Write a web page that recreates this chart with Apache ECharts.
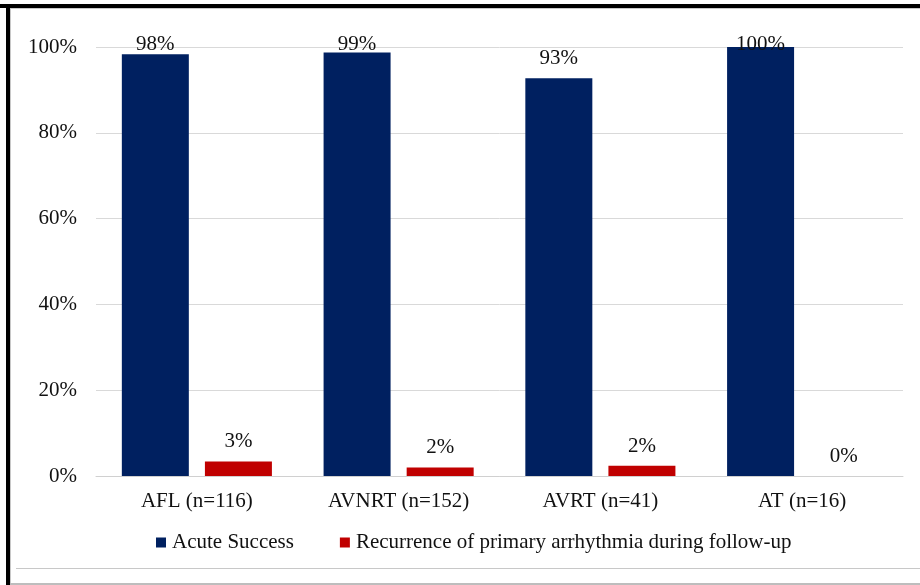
<!DOCTYPE html>
<html>
<head>
<meta charset="utf-8">
<script src="https://cdn.jsdelivr.net/npm/echarts@6/dist/echarts.min.js"></script>
<style>
html,body{margin:0;padding:0;background:#fff;}
#c{width:920px;height:585px;}
</style>
</head>
<body>
<div id="c"></div>
<script>
var categories = ['AFL (n=116)', 'AVNRT (n=152)', 'AVRT (n=41)', 'AT (n=16)'];
var seriesNames = ['Acute Success', 'Recurrence of primary arrhythmia during follow-up'];
var acuteSuccess = [98.3, 98.7, 92.7, 100];
var recurrence = [3.4, 2.0, 2.4, 0];
var yTicks = [0, 20, 40, 60, 80, 100];

var FONT = '"Liberation Serif", "Times New Roman", serif';
var chart = echarts.init(document.getElementById('c'), null, {renderer: 'canvas'});

var labelCommon = {
  show: true,
  position: 'top',
  distance: 9,
  fontFamily: FONT,
  fontSize: 21,
  color: '#111',
  formatter: function (p) { return Math.round(p.value) + '%'; }
};

chart.setOption({
  backgroundColor: '#fff',
  animation: false,
  textStyle: {fontFamily: FONT},
  grid: {left: 96, right: 17, top: 47, bottom: 109, containLabel: false},
  legend: {
    data: seriesNames,
    left: 151,
    top: 527,
    icon: 'rect',
    itemWidth: 10,
    itemHeight: 10,
    itemGap: 46,
    textStyle: {fontFamily: FONT, fontSize: 21, color: '#111', padding: [0, 0, 0, 1]}
  },
  xAxis: {
    type: 'category',
    data: categories,
    axisLine: {show: true, lineStyle: {color: '#d0d0d0', width: 1}},
    axisTick: {show: false},
    axisLabel: {fontFamily: FONT, fontSize: 21, color: '#111', margin: 15}
  },
  yAxis: {
    type: 'value',
    min: yTicks[0],
    max: yTicks[yTicks.length - 1],
    interval: 20,
    axisLine: {show: false},
    axisTick: {show: false},
    splitLine: {lineStyle: {color: '#d9d9d9', width: 1}},
    axisLabel: {fontFamily: FONT, fontSize: 21, color: '#111', margin: 19,
      formatter: function (v) { return v + '%'; }}
  },
  labelLayout: function (p) {
    var minTop = 34;
    if (p.labelRect && p.labelRect.y < minTop) {
      return {dy: minTop - p.labelRect.y};
    }
    return {};
  },
  series: [
    {
      name: seriesNames[0],
      type: 'bar',
      data: acuteSuccess,
      barWidth: 67,
      barGap: '24%',
      itemStyle: {color: '#002060'},
      label: labelCommon
    },
    {
      name: seriesNames[1],
      type: 'bar',
      data: recurrence,
      barWidth: 67,
      barGap: '24%',
      itemStyle: {color: '#c00000'},
      label: labelCommon
    }
  ],
  graphic: [
    {type: 'rect', shape: {x: 0, y: 4, width: 920, height: 4}, style: {fill: '#000'}, z: 100},
    {type: 'rect', shape: {x: 6, y: 4, width: 4, height: 581}, style: {fill: '#000'}, z: 100},
    {type: 'rect', shape: {x: 10, y: 8, width: 910, height: 1}, style: {fill: '#c8c8c8'}, z: 99},
    {type: 'rect', shape: {x: 10, y: 8, width: 1, height: 577}, style: {fill: '#c8c8c8'}, z: 99},
    {type: 'rect', shape: {x: 16, y: 568, width: 904, height: 1}, style: {fill: '#c8c8c8'}, z: 99},
    {type: 'rect', shape: {x: 10, y: 583, width: 910, height: 2}, style: {fill: '#bdbdbd'}, z: 99}
  ]
});
</script>
</body>
</html>
